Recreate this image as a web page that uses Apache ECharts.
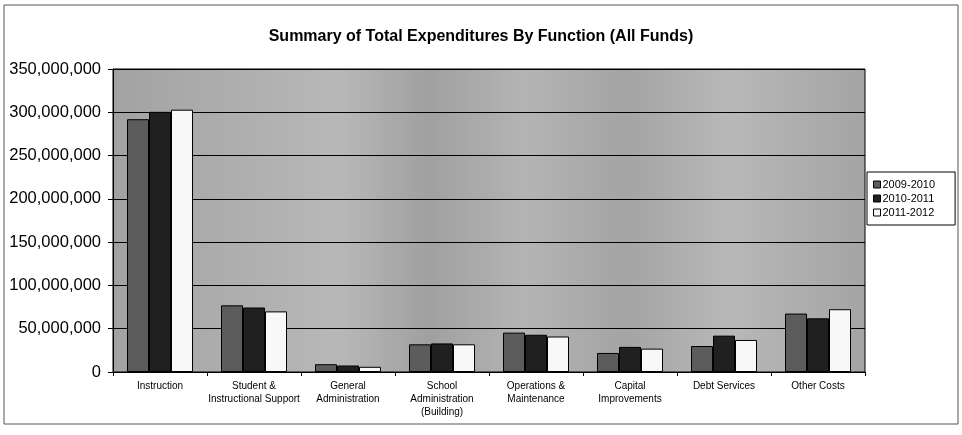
<!DOCTYPE html>
<html>
<head>
<meta charset="utf-8">
<script src="https://cdn.jsdelivr.net/npm/echarts@6/dist/echarts.min.js"></script>
<style>
html,body{margin:0;padding:0;background:#fff;}
#chart{width:962px;height:435px;}
</style>
</head>
<body>
<div id="chart"></div>
<script>
var categories = ['Instruction', 'Student &\nInstructional Support', 'General\nAdministration', 'School\nAdministration\n(Building)', 'Operations &\nMaintenance', 'Capital\nImprovements', 'Debt Services', 'Other Costs'];
var seriesNames = ['2009-2010', '2010-2011', '2011-2012'];
var s2009 = [292000000, 77000000, 9000000, 32000000, 45500000, 22000000, 30000000, 67500000];
var s2010 = [300500000, 74500000, 7500000, 33000000, 43000000, 29000000, 42000000, 62000000];
var s2011 = [303000000, 70000000, 6000000, 32000000, 41000000, 27000000, 37000000, 72500000];
var yTicks = [0, 50000000, 100000000, 150000000, 200000000, 250000000, 300000000, 350000000];

var chart = echarts.init(document.getElementById('chart'));
var font = 'Liberation Sans, Arial, sans-serif';
function fmt(v){ return String(v).replace(/\B(?=(\d{3})+(?!\d))/g, ','); }

var plotBg = new echarts.graphic.LinearGradient(0, 0, 1, 0, [
  {offset: 0, color: '#a2a2a2'},
  {offset: 0.12, color: '#ababab'},
  {offset: 0.3, color: '#b8b8b8'},
  {offset: 0.42, color: '#a0a0a0'},
  {offset: 0.55, color: '#b4b4b4'},
  {offset: 0.68, color: '#a4a4a4'},
  {offset: 0.82, color: '#b8b8b8'},
  {offset: 1, color: '#a4a4a4'}
]);

var colors = ['#5c5c5c', '#202020', '#f8f8f8'];
var datas = [s2009, s2010, s2011];

chart.setOption({
  animation: false,
  backgroundColor: '#ffffff',
  textStyle: {fontFamily: font},
  title: {
    text: 'Summary of Total Expenditures By Function (All Funds)',
    left: 'center',
    top: 24,
    textStyle: {fontFamily: font, fontSize: 16, fontWeight: 'bold', color: '#000'}
  },
  legend: {
    orient: 'vertical',
    left: 867,
    top: 172,
    data: seriesNames,
    icon: 'rect',
    itemWidth: 7,
    itemHeight: 7,
    itemGap: 3,
    padding: [7, 20, 7, 6],
    backgroundColor: '#ffffff',
    borderColor: '#000',
    borderWidth: 1,
    textStyle: {fontFamily: font, fontSize: 11, color: '#000', padding: [0, 0, 0, -3]},
    itemStyle: {borderColor: '#000', borderWidth: 1}
  },
  grid: {
    left: 113, right: 97, top: 69, bottom: 63,
    show: true,
    backgroundColor: plotBg,
    borderColor: '#000',
    borderWidth: 1
  },
  xAxis: {
    type: 'category',
    data: categories,
    axisLine: {lineStyle: {color: '#000', width: 1}},
    axisTick: {show: true, length: 4, lineStyle: {color: '#000'}},
    axisLabel: {
      interval: 0, fontFamily: font, fontSize: 10, color: '#000',
      lineHeight: 13, margin: 8
    }
  },
  yAxis: {
    type: 'value',
    min: 0, max: 350000000, interval: 50000000,
    axisLine: {show: true, lineStyle: {color: '#000', width: 1}},
    axisTick: {show: true, length: 5, lineStyle: {color: '#000'}},
    splitLine: {show: true, lineStyle: {color: '#000', width: 1}},
    axisLabel: {
      fontFamily: font, fontSize: 16.5, color: '#000', margin: 12,
      formatter: function(v){ return yTicks.indexOf(v) >= 0 ? fmt(v) : ''; }
    }
  },
  series: seriesNames.map(function(n, i){
    return {
      name: n,
      type: 'bar',
      data: datas[i],
      barWidth: 22,
      barGap: '0%',
      itemStyle: {color: colors[i], borderColor: '#000', borderWidth: 1}
    };
  }),
  graphic: [{
    type: 'rect',
    shape: {x: 4, y: 5, width: 954, height: 419},
    style: {fill: null, stroke: '#555', lineWidth: 1},
    silent: true
  }]
});
</script>
</body>
</html>
